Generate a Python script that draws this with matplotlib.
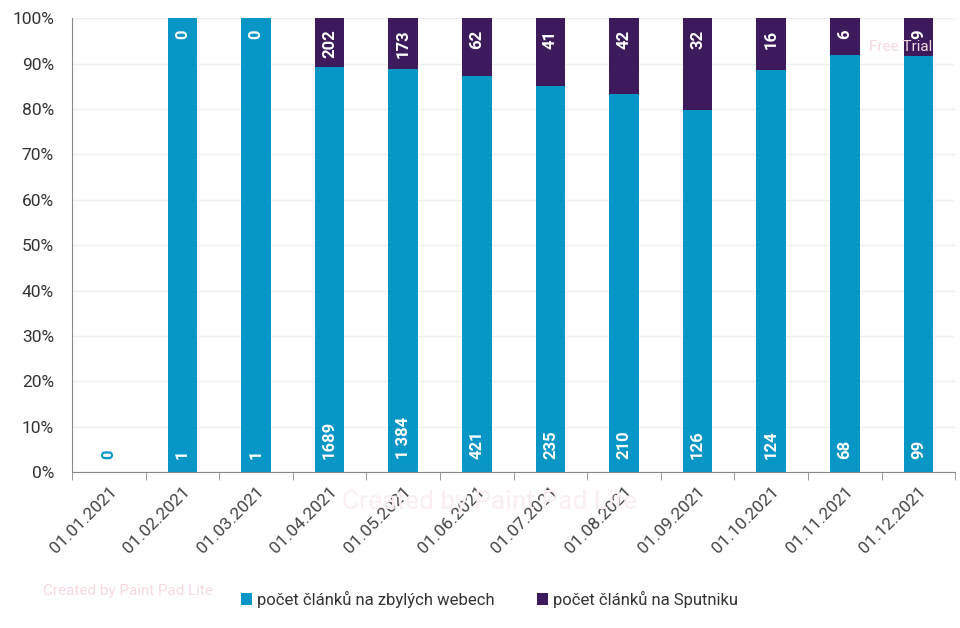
import numpy as np
import matplotlib.pyplot as plt

dates = ['01.01.2021', '01.02.2021', '01.03.2021', '01.04.2021', '01.05.2021', '01.06.2021',
         '01.07.2021', '01.08.2021', '01.09.2021', '01.10.2021', '01.11.2021', '01.12.2021']
other = [0, 1, 1, 1689, 1384, 421, 235, 210, 126, 124, 68, 99]
sputnik = [0, 0, 0, 202, 173, 62, 41, 42, 32, 16, 6, 9]
other_labels = ['0', '1', '1', '1689', '1 384', '421', '235', '210', '126', '124', '68', '99']

BLUE = '#0796c6'
PURPLE = '#3c1a5b'

plt.rcParams['font.family'] = ['Roboto', 'DejaVu Sans']

fig = plt.figure(figsize=(9.6, 6.28), dpi=100)
ax = fig.add_axes([0.075, 0.248, 0.92, 0.723])

x = np.arange(len(dates))
o = np.array(other, dtype=float)
s = np.array(sputnik, dtype=float)
tot = o + s
safe = np.where(tot > 0, tot, 1)
po = o / safe * 100
ps = s / safe * 100

w = 0.4
ax.bar(x, po, w, color=BLUE, label='počet článků na zbylých webech', zorder=2)
ax.bar(x, ps, w, bottom=po, color=PURPLE, label='počet článků na Sputniku', zorder=2)

for i in range(len(x)):
    col = 'white' if tot[i] > 0 else BLUE
    ax.text(x[i], 3.0, other_labels[i], rotation=90, ha='center', va='bottom',
            color=col, fontsize=12, fontweight='bold', zorder=3)
    if tot[i] > 0:
        ax.text(x[i], 97.5, str(sputnik[i]), rotation=90, ha='center', va='top',
                color='white', fontsize=12, fontweight='bold', zorder=3)

ax.set_xlim(-0.5, len(x) - 0.5)
ax.set_ylim(0, 100)
ax.set_yticks(np.arange(0, 101, 10))
ax.set_yticklabels([f'{v}%' for v in range(0, 101, 10)], fontsize=12.5, color='#333333')
ax.set_xticks(x)
ax.set_xticklabels(dates, rotation=45, ha='right', rotation_mode='anchor',
                   fontsize=12.5, color='#444444')
ax.tick_params(axis='x', which='major', length=0, pad=8)
ax.set_xticks(np.arange(-0.5, len(x), 1), minor=True)
ax.tick_params(axis='x', which='minor', length=6, color='#888888')
ax.tick_params(axis='y', length=0, pad=13)

ax.grid(axis='y', color='#eeeeee', linewidth=1, zorder=0)
for sp in ['top', 'right']:
    ax.spines[sp].set_visible(False)
ax.spines['left'].set_color('#888888')
ax.spines['bottom'].set_color('#888888')

leg = fig.legend(loc='lower center', bbox_to_anchor=(0.51, 0.0), ncol=2, frameon=False,
                 fontsize=12, handlelength=0.7, handleheight=0.7, handletextpad=0.3,
                 columnspacing=2.5, borderaxespad=0.8)
for t in leg.get_texts():
    t.set_color('#333333')

# faint watermarks from the screenshot
wm = '#f7d9de'
fig.text(0.045, 0.052, 'Created by Paint Pad Lite', fontsize=11, color=wm)
fig.text(0.51, 0.19, 'Created by Paint Pad Lite', fontsize=19, color='#fbeef0', ha='center')
fig.text(0.905, 0.918, 'Free Trial', fontsize=11, color=wm, ha='left')

fig.savefig('out.png', dpi=100)
